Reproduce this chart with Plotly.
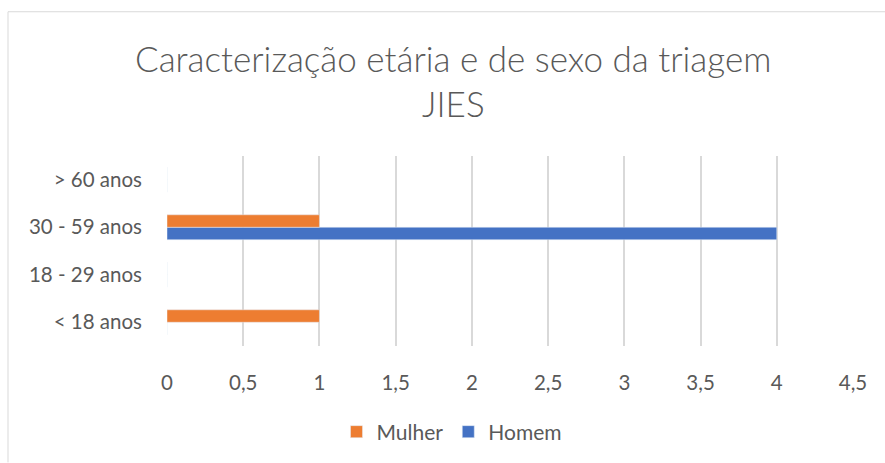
import plotly.graph_objects as go

categories = ["< 18 anos", "18 - 29 anos", "30 - 59 anos", "> 60 anos"]
mulher = [1, 0, 1, 0]
homem = [0, 0, 4, 0]
x_ticks = [0, 0.5, 1, 1.5, 2, 2.5, 3, 3.5, 4, 4.5]
x_tick_labels = ["0", "0,5", "1", "1,5", "2", "2,5", "3", "3,5", "4", "4,5"]

FONT = "Lato, Carlito, Calibri, sans-serif"
GREY = "#595959"

# paper coordinates of the plot area (l=167..853, t=156..347)
def px_x(px):
    return (px - 167) / 686


def px_y(py):
    return (347 - py) / 191


fig = go.Figure()
# Homem first so it sits below Mulher inside each group
fig.add_trace(go.Bar(y=categories, x=homem, orientation="h", name="Homem",
                     marker_color="#4472C4"))
fig.add_trace(go.Bar(y=categories, x=mulher, orientation="h", name="Mulher",
                     marker_color="#ED7D31"))

fig.update_layout(
    width=885, height=463,
    margin=dict(l=167, r=32, t=156, b=116),
    paper_bgcolor="white", plot_bgcolor="white",
    barmode="group", bargap=0.476, bargroupgap=0,
    font=dict(family=FONT, color=GREY, size=20),
    showlegend=True,
    legend=dict(orientation="h", x=px_x(452), xanchor="center", y=px_y(432),
                yanchor="middle", traceorder="reversed",
                font=dict(size=21, color=GREY), itemwidth=30),
    annotations=[
        dict(text="Caracterização etária e de sexo da triagem", xref="paper", yref="paper",
             x=px_x(453), y=px_y(57), xanchor="center", yanchor="middle",
             showarrow=False, font=dict(size=35, color=GREY, family=FONT, weight=300)),
        dict(text="JIES", xref="paper", yref="paper",
             x=px_x(453), y=px_y(103), xanchor="center", yanchor="middle",
             showarrow=False, font=dict(size=35, color=GREY, family=FONT, weight=300)),
    ],
    shapes=[
        dict(type="line", xref="paper", yref="paper",
             x0=px_x(8), x1=px_x(886), y0=px_y(11), y1=px_y(11),
             line=dict(color="#d9d9d9", width=1)),
        dict(type="line", xref="paper", yref="paper",
             x0=px_x(8), x1=px_x(8), y0=px_y(11), y1=px_y(464),
             line=dict(color="#d9d9d9", width=1)),
    ],
)

fig.update_xaxes(range=[0, 4.5], tickvals=x_ticks, ticktext=x_tick_labels,
                 showgrid=True, gridcolor="#d9d9d9", gridwidth=1.5,
                 zeroline=False, showline=False, ticks="",
                 ticklabelstandoff=22, tickfont=dict(size=20.5, color=GREY))
fig.update_yaxes(categoryorder="array", categoryarray=categories,
                 showgrid=False, zeroline=False, showline=False, ticks="",
                 ticklabelstandoff=24, tickfont=dict(size=20.5, color=GREY))

fig.write_html("out.html", config={"displayModeBar": False},
               post_script="document.body.style.margin='0';")
